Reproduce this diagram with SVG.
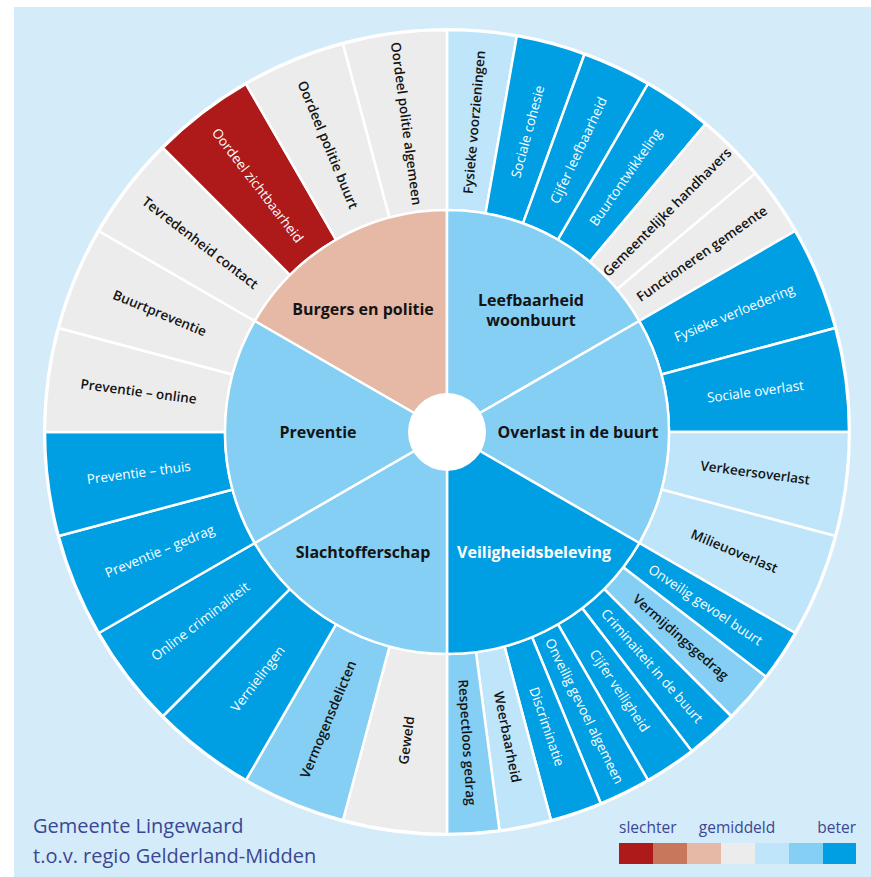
<svg xmlns="http://www.w3.org/2000/svg" width="871" height="877" viewBox="0 0 871 877">
<style>
.seg{stroke:#fff;stroke-width:2.5;stroke-linejoin:round}
.o{font-family:"Open Sans","Noto Sans","DejaVu Sans",sans-serif;font-size:13.5px;text-anchor:middle}
.dk{fill:#141414;font-weight:600}
.wt{fill:#fff;font-weight:500}
.in{font-family:"Open Sans","Noto Sans","DejaVu Sans",sans-serif;font-size:16px;font-weight:700;text-anchor:middle;fill:#141414}
.lg{font-family:"Open Sans","Noto Sans","DejaVu Sans",sans-serif;fill:#3b4792}
.vlb{fill:#bee5fa}.lb{fill:#85cff4}.bl{fill:#009fe3}.gr{fill:#ececec}.rd{fill:#ad1a19}.md{fill:#c8765c}.sa{fill:#e5b9a6}
</style>
<defs>
<path id="s15" d="M0,-402 A402,402 0 0 1 104.045,-388.302 L57.458,-214.436 A222,222 0 0 0 0,-222 Z"/>
<path id="s10" d="M0,-402 A402,402 0 0 1 69.806,-395.893 L38.550,-218.627 A222,222 0 0 0 0,-222 Z"/>
<path id="s75" d="M0,-402 A402,402 0 0 1 52.471,-398.561 L28.977,-220.101 A222,222 0 0 0 0,-222 Z"/>
<path id="s60" d="M0,-222 A222,222 0 0 1 192.258,-111 L0,0 Z"/>
</defs>
<rect x="14" y="7" width="857" height="870" fill="#d4ebfa"/>
<g transform="translate(447,432)">
<g id="fysieke-voorzieningen"><use href="#s10" class="seg vlb" transform="rotate(0)"/><text class="o dk" transform="rotate(-85) translate(311,0)" dy="0.36em">Fysieke voorzieningen</text></g>
<g id="sociale-cohesie"><use href="#s10" class="seg bl" transform="rotate(10)"/><text class="o wt" transform="rotate(-75) translate(311,0)" dy="0.36em">Sociale cohesie</text></g>
<g id="cijfer-leefbaarheid"><use href="#s10" class="seg bl" transform="rotate(20)"/><text class="o wt" transform="rotate(-65) translate(311,0)" dy="0.36em">Cijfer leefbaarheid</text></g>
<g id="buurtontwikkeling"><use href="#s10" class="seg bl" transform="rotate(30)"/><text class="o wt" transform="rotate(-55) translate(311,0)" dy="0.36em">Buurtontwikkeling</text></g>
<g id="gemeentelijke-handhavers"><use href="#s10" class="seg gr" transform="rotate(40)"/><text class="o dk" transform="rotate(-45) translate(311,0)" dy="0.36em">Gemeentelijke handhavers</text></g>
<g id="functioneren-gemeente"><use href="#s10" class="seg gr" transform="rotate(50)"/><text class="o dk" transform="rotate(-35) translate(311,0)" dy="0.36em">Functioneren gemeente</text></g>
<g id="fysieke-verloedering"><use href="#s15" class="seg bl" transform="rotate(60)"/><text class="o wt" transform="rotate(-22.5) translate(311,0)" dy="0.36em">Fysieke verloedering</text></g>
<g id="sociale-overlast"><use href="#s15" class="seg bl" transform="rotate(75)"/><text class="o wt" transform="rotate(-7.5) translate(311,0)" dy="0.36em">Sociale overlast</text></g>
<g id="verkeersoverlast"><use href="#s15" class="seg vlb" transform="rotate(90)"/><text class="o dk" transform="rotate(7.5) translate(311,0)" dy="0.36em">Verkeersoverlast</text></g>
<g id="milieuoverlast"><use href="#s15" class="seg vlb" transform="rotate(105)"/><text class="o dk" transform="rotate(22.5) translate(311,0)" dy="0.36em">Milieuoverlast</text></g>
<g id="onveilig-gevoel-buurt"><use href="#s75" class="seg bl" transform="rotate(120)"/><text class="o wt" transform="rotate(33.75) translate(311,0)" dy="0.36em">Onveilig gevoel buurt</text></g>
<g id="vermijdingsgedrag"><use href="#s75" class="seg lb" transform="rotate(127.5)"/><text class="o dk" transform="rotate(41.25) translate(311,0)" dy="0.36em">Vermijdingsgedrag</text></g>
<g id="criminaliteit-in-de-buurt"><use href="#s75" class="seg bl" transform="rotate(135)"/><text class="o wt" transform="rotate(48.75) translate(311,0)" dy="0.36em">Criminaiteit in de buurt</text></g>
<g id="cijfer-veiligheid"><use href="#s75" class="seg bl" transform="rotate(142.5)"/><text class="o wt" transform="rotate(56.25) translate(311,0)" dy="0.36em">Cijfer veiligheid</text></g>
<g id="onveilig-gevoel-algemeen"><use href="#s75" class="seg bl" transform="rotate(150)"/><text class="o wt" transform="rotate(63.75) translate(311,0)" dy="0.36em">Onveilig gevoel algemeen</text></g>
<g id="discriminatie"><use href="#s75" class="seg bl" transform="rotate(157.5)"/><text class="o wt" transform="rotate(71.25) translate(311,0)" dy="0.36em">Discriminatie</text></g>
<g id="weerbaarheid"><use href="#s75" class="seg vlb" transform="rotate(165)"/><text class="o dk" transform="rotate(78.75) translate(311,0)" dy="0.36em">Weerbaarheid</text></g>
<g id="respectloos-gedrag"><use href="#s75" class="seg lb" transform="rotate(172.5)"/><text class="o dk" transform="rotate(86.25) translate(311,0)" dy="0.36em">Respectloos gedrag</text></g>
<g id="geweld"><use href="#s15" class="seg gr" transform="rotate(180)"/><text class="o dk" transform="rotate(277.5) translate(-311,0)" dy="0.36em">Geweld</text></g>
<g id="vermogensdelicten"><use href="#s15" class="seg lb" transform="rotate(195)"/><text class="o dk" transform="rotate(292.5) translate(-311,0)" dy="0.36em">Vermogensdelicten</text></g>
<g id="vernielingen"><use href="#s15" class="seg bl" transform="rotate(210)"/><text class="o wt" transform="rotate(307.5) translate(-311,0)" dy="0.36em">Vernielingen</text></g>
<g id="online-criminaliteit"><use href="#s15" class="seg bl" transform="rotate(225)"/><text class="o wt" transform="rotate(322.5) translate(-311,0)" dy="0.36em">Online criminaliteit</text></g>
<g id="preventie-gedrag"><use href="#s15" class="seg bl" transform="rotate(240)"/><text class="o wt" transform="rotate(337.5) translate(-311,0)" dy="0.36em">Preventie – gedrag</text></g>
<g id="preventie-thuis"><use href="#s15" class="seg bl" transform="rotate(255)"/><text class="o wt" transform="rotate(352.5) translate(-311,0)" dy="0.36em">Preventie – thuis</text></g>
<g id="preventie-online"><use href="#s15" class="seg gr" transform="rotate(270)"/><text class="o dk" transform="rotate(7.5) translate(-311,0)" dy="0.36em">Preventie – online</text></g>
<g id="buurtpreventie"><use href="#s15" class="seg gr" transform="rotate(285)"/><text class="o dk" transform="rotate(22.5) translate(-311,0)" dy="0.36em">Buurtpreventie</text></g>
<g id="tevredenheid-contact"><use href="#s15" class="seg gr" transform="rotate(300)"/><text class="o dk" transform="rotate(37.5) translate(-311,0)" dy="0.36em">Tevredenheid contact</text></g>
<g id="oordeel-zichtbaarheid"><use href="#s15" class="seg rd" transform="rotate(315)"/><text class="o wt" transform="rotate(52.5) translate(-311,0)" dy="0.36em">Oordeel zichtbaarheid</text></g>
<g id="oordeel-politie-buurt"><use href="#s15" class="seg gr" transform="rotate(330)"/><text class="o dk" transform="rotate(67.5) translate(-311,0)" dy="0.36em">Oordeel politie buurt</text></g>
<g id="oordeel-politie-algemeen"><use href="#s15" class="seg gr" transform="rotate(345)"/><text class="o dk" transform="rotate(82.5) translate(-311,0)" dy="0.36em">Oordeel politie algemeen</text></g>
<g id="burgers-en-politie"><use href="#s60" class="seg sa" transform="rotate(300)"/></g>
<g id="leefbaarheid-woonbuurt"><use href="#s60" class="seg lb" transform="rotate(0)"/></g>
<g id="overlast-in-de-buurt"><use href="#s60" class="seg lb" transform="rotate(60)"/></g>
<g id="veiligheidsbeleving"><use href="#s60" class="seg bl" transform="rotate(120)"/></g>
<g id="slachtofferschap"><use href="#s60" class="seg lb" transform="rotate(180)"/></g>
<g id="preventie"><use href="#s60" class="seg lb" transform="rotate(240)"/></g>
<circle cx="0" cy="0" r="39" fill="#fff"/>
<circle cx="0" cy="0" r="403" fill="none" stroke="#fff" stroke-width="2"/>
</g>
<g id="inner-labels">
<text class="in" x="363" y="315">Burgers en politie</text>
<text class="in" x="531" y="306">Leefbaarheid</text>
<text class="in" x="531" y="326">woonbuurt</text>
<text class="in" x="578" y="438">Overlast in de buurt</text>
<text class="in" x="318" y="438">Preventie</text>
<text class="in" x="363" y="558">Slachtofferschap</text>
<text class="in" x="534" y="558" style="fill:#fff">Veiligheidsbeleving</text>
</g>
<g id="legend">
<text class="lg" x="33" y="833" font-size="20">Gemeente Lingewaard</text>
<text class="lg" x="33" y="863" font-size="20">t.o.v. regio Gelderland-Midden</text>
<text class="lg" x="619" y="833" font-size="15.5">slechter</text>
<text class="lg" x="737" y="833" font-size="15.5" text-anchor="middle">gemiddeld</text>
<text class="lg" x="856" y="833" font-size="15.5" text-anchor="end">beter</text>
<rect class="rd" x="619" y="843" width="34" height="21"/>
<rect class="md" x="653" y="843" width="34" height="21"/>
<rect class="sa" x="687" y="843" width="34" height="21"/>
<rect class="gr" x="721" y="843" width="34" height="21"/>
<rect class="vlb" x="755" y="843" width="34" height="21"/>
<rect class="lb" x="789" y="843" width="34" height="21"/>
<rect class="bl" x="823" y="843" width="33" height="21"/>
</g>
</svg>
